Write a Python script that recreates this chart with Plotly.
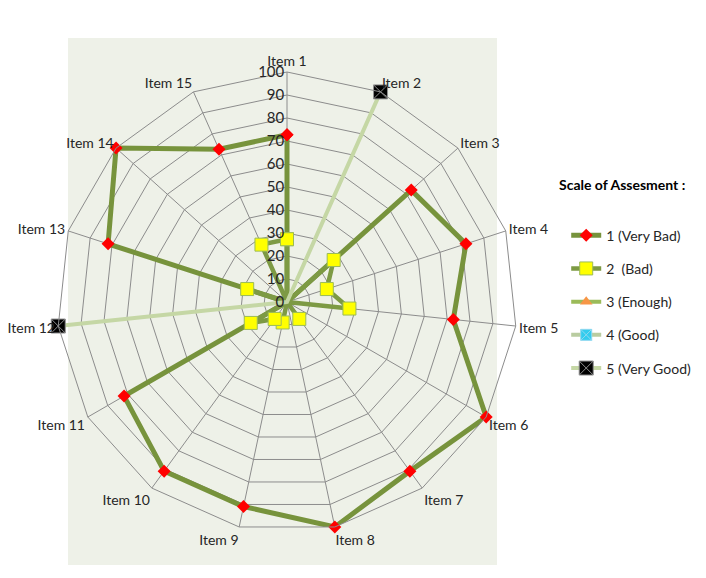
import plotly.graph_objects as go

items = ["Item 1", "Item 2", "Item 3", "Item 4", "Item 5", "Item 6", "Item 7", "Item 8",
         "Item 9", "Item 10", "Item 11", "Item 12", "Item 13", "Item 14", "Item 15"]
very_bad = [72.7, 0, 72.7, 81.8, 72.7, 100, 90.9, 100, 90.9, 90.9, 81.8, 0, 81.8, 100, 72.7]
bad = [27.3, 0, 27.3, 18.2, 27.3, 0, 9.1, 0, 9.1, 9.1, 18.2, 0, 18.2, 0, 27.3]
enough = [0] * 15
good = [0] * 15
very_good = [0, 100, 0, 0, 0, 0, 0, 0, 0, 0, 0, 100, 0, 0, 0]
series_names = ["1 (Very Bad)", "2  (Bad)", "3 (Enough)", "4 (Good)", "5 (Very Good)"]
radial_ticks = list(range(0, 101, 10))

FONT = "Lato"
TXT = "#262626"

def closed(v):
    return list(v) + [v[0]]

styles = [
    dict(line=dict(color="#77933C", width=5),
         marker=dict(symbol="diamond", size=10, color="#FF0000", line=dict(width=0))),
    dict(line=dict(color="#7D9A44", width=4.5),
         marker=dict(symbol="square", size=13, color="#FFFF00", line=dict(color="#9BBB59", width=1))),
    dict(line=dict(color="#9BBB59", width=4),
         marker=dict(symbol="triangle-up", size=11, color="#F79646", line=dict(width=0))),
    dict(line=dict(color="#B9CCA0", width=4),
         marker=dict(symbol="square-x", size=11, color="#33CCEE", line=dict(color="#8FD8F0", width=1))),
    dict(line=dict(color="#C5D7A5", width=4),
         marker=dict(symbol="square-x", size=14, color="#000000", line=dict(color="#909090", width=1))),
]

fig = go.Figure()
for name, vals, st in zip(series_names, [very_bad, bad, enough, good, very_good], styles):
    fig.add_trace(go.Scatterpolar(
        r=closed(vals), theta=closed(items), mode="lines+markers", name=name,
        legendgroup=name, line=st["line"], marker=st["marker"],
    ))

R = 230
cx, cy = 287, 302
W, H = 706, 578

fig.update_layout(
    width=W, height=H,
    margin=dict(l=0, r=0, t=0, b=0),
    paper_bgcolor="white",
    font=dict(family=FONT, size=14, color=TXT),
    showlegend=True,
    legend=dict(x=0.802, y=0.62, xanchor="left", yanchor="top",
                itemwidth=30, tracegroupgap=12, font=dict(size=14, color=TXT),
                bgcolor="rgba(0,0,0,0)"),
    shapes=[dict(type="rect", xref="paper", yref="paper", layer="below",
                 x0=68 / W, x1=497 / W, y0=1 - 565 / H, y1=1 - 38 / H,
                 fillcolor="#EEF1E8", line=dict(width=0))],
    annotations=[dict(text="<b>Scale of Assesment :</b>", xref="paper", yref="paper",
                      x=622 / W, y=1 - 184 / H, showarrow=False, xanchor="center",
                      yanchor="middle", font=dict(size=14, color="#000000"))],
    polar=dict(
        domain=dict(x=[(cx - R) / W, (cx + R) / W], y=[(H - cy - R) / H, (H - cy + R) / H]),
        bgcolor="rgba(0,0,0,0)",
        gridshape="linear",
        angularaxis=dict(type="category", rotation=90, direction="clockwise",
                         showline=True, linecolor="#8C8C8C", linewidth=1,
                         gridcolor="#8C8C8C", gridwidth=1, ticks="",
                         tickfont=dict(size=14, color=TXT)),
        radialaxis=dict(range=[0, 100], tickvals=radial_ticks, angle=90, tickangle=90,
                        side="counterclockwise", showline=False, ticks="",
                        gridcolor="#8C8C8C", gridwidth=1,
                        tickfont=dict(size=15, color=TXT)),
    ),
)

fig.write_html("out.html", config=dict(displayModeBar=False))
